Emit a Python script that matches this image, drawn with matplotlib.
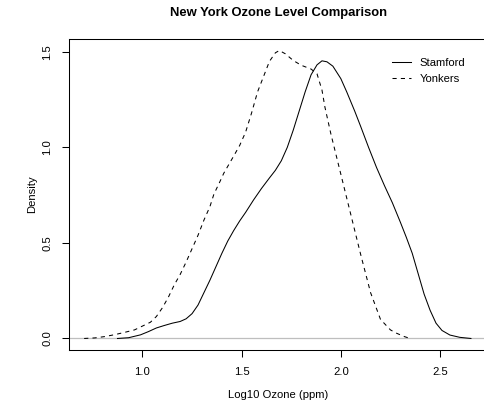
import matplotlib
matplotlib.use("Agg")
import matplotlib.pyplot as plt

plt.rcParams['font.family'] = ['Liberation Sans', 'DejaVu Sans']

# Density estimates of log10 ozone for the two sites
stamford_x = [0.874, 0.93, 0.99, 1.03, 1.07, 1.11, 1.15, 1.19, 1.22, 1.25, 1.28,
              1.31, 1.34, 1.37, 1.40, 1.43, 1.46, 1.49, 1.52, 1.56, 1.60, 1.64,
              1.67, 1.70, 1.73, 1.76, 1.79, 1.82, 1.85, 1.88, 1.905, 1.93, 1.96,
              2.00, 2.03, 2.07, 2.10, 2.14, 2.18, 2.22, 2.26, 2.30, 2.33, 2.36,
              2.39, 2.42, 2.45, 2.48, 2.51, 2.55, 2.60, 2.656]
stamford_y = [0.000, 0.004, 0.019, 0.036, 0.055, 0.068, 0.080, 0.089, 0.103, 0.130, 0.175,
              0.240, 0.305, 0.375, 0.445, 0.510, 0.565, 0.615, 0.660, 0.725, 0.785, 0.840,
              0.880, 0.930, 1.000, 1.090, 1.190, 1.290, 1.380, 1.432, 1.453, 1.448, 1.425,
              1.360, 1.290, 1.190, 1.110, 1.000, 0.895, 0.800, 0.710, 0.609, 0.530, 0.446,
              0.339, 0.232, 0.148, 0.080, 0.042, 0.018, 0.006, 0.000]

yonkers_x = [0.706, 0.76, 0.81, 0.86, 0.91, 0.96, 1.00, 1.04, 1.07, 1.10, 1.13,
             1.16, 1.19, 1.22, 1.25, 1.28, 1.31, 1.34, 1.36, 1.39, 1.41, 1.46,
             1.49, 1.52, 1.55, 1.58, 1.61, 1.64, 1.67, 1.69, 1.72, 1.76, 1.80,
             1.85, 1.88, 1.905, 1.92, 1.95, 2.00, 2.05, 2.10, 2.15, 2.20, 2.25,
             2.28, 2.32, 2.35]
yonkers_y = [0.000, 0.003, 0.010, 0.020, 0.032, 0.045, 0.065, 0.085, 0.115, 0.160, 0.215,
             0.280, 0.335, 0.400, 0.470, 0.540, 0.620, 0.690, 0.755, 0.820, 0.865, 0.955,
             1.010, 1.080, 1.180, 1.290, 1.370, 1.450, 1.495, 1.507, 1.490, 1.455, 1.430,
             1.410, 1.385, 1.300, 1.210, 1.070, 0.860, 0.650, 0.440, 0.240, 0.100, 0.045,
             0.028, 0.010, 0.000]

xticks = [1.0, 1.5, 2.0, 2.5]
yticks = [0.0, 0.5, 1.0, 1.5]

W, H = 485, 409
fs = 8.1
fig = plt.figure(figsize=(W / 100, H / 100), dpi=100)
ax = fig.add_axes([68.7 / W, 1 - 350 / H, (486.4 - 68.7) / W, (350 - 39) / H])

ax.axhline(0, color='#bebebe', linewidth=0.9, zorder=1)
ax.plot(stamford_x, stamford_y, color='black', linewidth=0.75, label='Stamford', zorder=2)
ax.plot(yonkers_x, yonkers_y, color='black', linewidth=0.75, linestyle=(0, (4, 4)),
        label='Yonkers', zorder=2)

# R style limits: data range padded by 4%
xmin, xmax = min(yonkers_x), max(stamford_x)
ymax = max(yonkers_y)
ax.set_xlim(xmin - 0.04 * (xmax - xmin), xmax + 0.04 * (xmax - xmin))
ax.set_ylim(-0.04 * ymax, ymax * 1.04)

ax.set_xticks(xticks)
ax.set_xticklabels([f"{t:.1f}" for t in xticks])
ax.set_yticks(yticks)
ax.set_yticklabels([f"{t:.1f}" for t in yticks], rotation=90, va='center')
ax.tick_params(direction='out', length=5, width=0.75, labelsize=fs)
ax.tick_params(axis='x', pad=7)
ax.tick_params(axis='y', pad=7)
for s in ax.spines.values():
    s.set_linewidth(0.75)

fig.text(278.5 / W, 1 - 13.3 / H, 'New York Ozone Level Comparison',
         fontsize=9.4, fontweight='bold', ha='center', va='center')
ax.set_xlabel('Log10 Ozone (ppm)', fontsize=fs, va='center')
ax.set_ylabel('Density', fontsize=fs, va='center')
ax.xaxis.set_label_coords(278.5 / W, 1 - 395.5 / H, transform=fig.transFigure)
ax.yaxis.set_label_coords(32 / W, 1 - 194 / H, transform=fig.transFigure)

ax.legend(loc='center left', bbox_to_anchor=(391.7 / W, 1 - 71 / H),
          bbox_transform=fig.transFigure, frameon=False, fontsize=fs,
          borderpad=0, borderaxespad=0, handlelength=1.75, handletextpad=0.75,
          labelspacing=0.5)

fig.savefig('out.png', dpi=100)
